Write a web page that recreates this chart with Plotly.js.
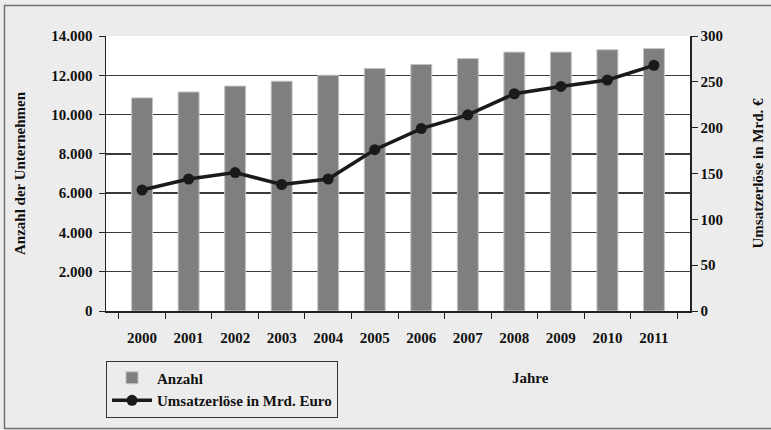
<!DOCTYPE html>
<html><head><meta charset="utf-8">
<script src="https://cdn.plot.ly/plotly-3.0.1.min.js"></script>
<style>html,body{margin:0;padding:0;background:#ececec}</style>
</head><body>
<div id="chart" style="width:771px;height:430px"></div>
<script>
const years = ["2000","2001","2002","2003","2004","2005","2006","2007","2008","2009","2010","2011"];
const anzahl = [10850, 11150, 11450, 11700, 12000, 12350, 12550, 12850, 13180, 13180, 13300, 13360];
const umsatz = [132, 144, 151, 138, 144, 176, 199, 214, 237, 245, 252, 268];
const leftTicks = [0, 2000, 4000, 6000, 8000, 10000, 12000, 14000];
const rightTicks = [0, 50, 100, 150, 200, 250, 300];

const W = 771, H = 430;
const m = {l: 106, r: 81, t: 36, b: 111};
const fam = 'Liberation Serif';
const pw = W - m.l - m.r, ph = H - m.t - m.b;
const px = v => (v - m.l) / pw;
const py = v => 1 - (v - m.t) / ph;
const bf = {family: fam, size: 15, weight: 700, color: '#111'};

const traces = [
  {type: 'bar', x: years, y: anzahl, name: 'Anzahl',
   marker: {color: '#7f7f7f', line: {color: '#c4c4c4', width: 1}}, width: 0.45},
  {type: 'scatter', mode: 'lines+markers', x: years, y: umsatz, yaxis: 'y2',
   name: 'Umsatzerlöse in Mrd. Euro',
   line: {color: '#1a1a1a', width: 3.5}, marker: {color: '#1a1a1a', size: 11}}
];

const layout = {
  width: W, height: H, margin: m,
  paper_bgcolor: '#ececec', plot_bgcolor: '#ffffff',
  separators: ',.',
  font: bf,
  showlegend: true,
  xaxis: {type: 'category', tickson: 'boundaries', ticks: 'outside', ticklen: 6,
    tickcolor: '#222', showline: true, linecolor: '#222', linewidth: 1.5,
    showgrid: false, tickfont: bf, ticklabelstandoff: 12, fixedrange: true},
  yaxis: {range: [0, 14000], tickvals: leftTicks, tickformat: ',.0f',
    ticks: 'outside', ticklen: 6, tickcolor: '#222', showline: true, linecolor: '#222',
    linewidth: 1.5, gridcolor: '#3a3a3a', gridwidth: 1.5, zeroline: false,
    tickfont: bf, ticklabelstandoff: 3,
    title: {text: 'Anzahl der Unternehmen', font: bf, standoff: 22}},
  yaxis2: {overlaying: 'y', side: 'right', range: [0, 300], tickvals: rightTicks,
    ticks: 'outside', ticklen: 6, tickcolor: '#222', showline: true, linecolor: '#222',
    linewidth: 1.5, showgrid: false, zeroline: false,
    tickfont: bf,
    title: {text: 'Umsatzerlöse in Mrd. €', font: bf, standoff: 30}},
  legend: {x: px(106), y: py(370), xanchor: 'left', yanchor: 'top',
    bgcolor: '#ececec', bordercolor: '#333', borderwidth: 1,
    font: bf, tracegroupgap: 0, itemwidth: 40},
  annotations: [{text: 'Jahre', xref: 'paper', yref: 'paper', x: px(551), y: py(398),
    showarrow: false, font: bf}],
  shapes: [{type: 'rect', xref: 'paper', yref: 'paper', x0: px(4.5), y0: py(440), x1: px(790), y1: py(4.5),
    line: {color: '#707070', width: 1.5}, layer: 'below'}]
};
Plotly.newPlot('chart', traces, layout, {displayModeBar: false, staticPlot: true});
</script>
</body></html>
